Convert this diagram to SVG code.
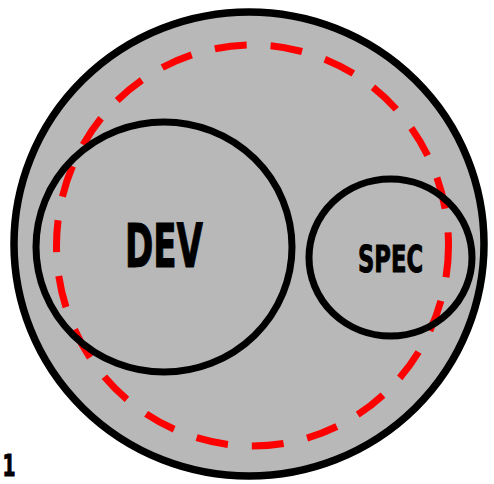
<svg xmlns="http://www.w3.org/2000/svg" width="494" height="484" viewBox="0 0 494 484">
<style>
.ring{fill:none;stroke:#000;stroke-width:7}
.lbl{font-family:"Liberation Sans Narrow","DejaVu Sans Condensed","Liberation Sans",sans-serif;font-weight:bold;fill:#000;stroke:#000;stroke-width:1;text-anchor:middle}
</style>
<rect width="494" height="484" fill="#fff"/>
<g id="outer">
<ellipse cx="249" cy="244" rx="235" ry="232" fill="#b8b8b8" stroke="#000" stroke-width="7.5"/>
</g>
<g id="dashed">
<ellipse cx="252.5" cy="245.5" rx="196" ry="200.5" fill="none" stroke="#ff0000" stroke-width="7" stroke-dasharray="32 24"/>
</g>
<g id="dev">
<ellipse class="ring" cx="164" cy="247" rx="128" ry="125"/>
<text class="lbl" x="164" y="267" font-size="60" textLength="78" lengthAdjust="spacingAndGlyphs">DEV</text>
</g>
<g id="spec">
<ellipse class="ring" cx="390.5" cy="257.5" rx="81.5" ry="78.5"/>
<text class="lbl" x="390.5" y="272" font-size="38" textLength="65" lengthAdjust="spacingAndGlyphs">SPEC</text>
</g>
<g id="label1">
<text class="lbl" x="9" y="476" font-size="30" stroke-width="2.5" textLength="13" lengthAdjust="spacingAndGlyphs">1</text>
</g>
</svg>
